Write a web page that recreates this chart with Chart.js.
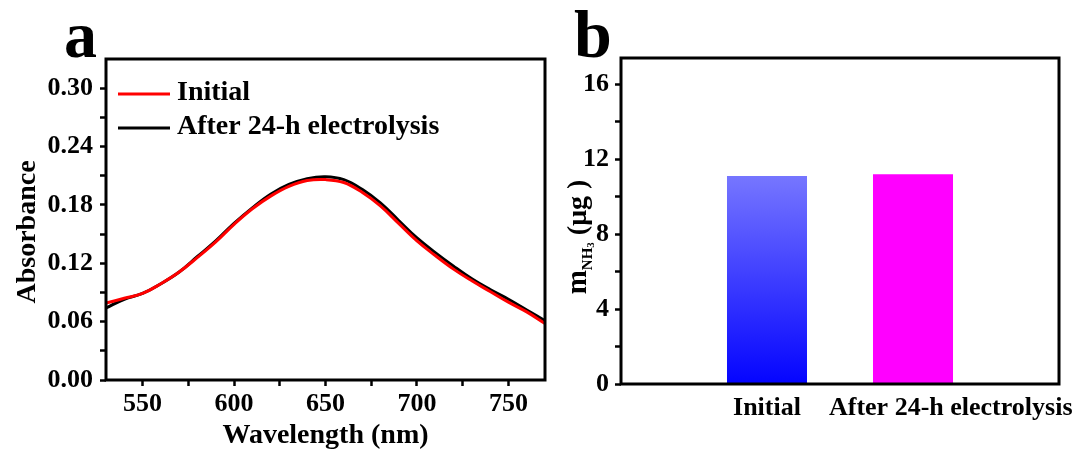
<!DOCTYPE html>
<html>
<head>
<meta charset="utf-8">
<title>Absorbance and NH3 yield</title>
<script src="https://cdn.jsdelivr.net/npm/chart.js@4/dist/chart.umd.min.js"></script>
<style>
  html, body { margin: 0; padding: 0; background: #fff; }
  #wrap { position: relative; width: 1072px; height: 450px; overflow: hidden; }
  .panel { position: absolute; top: 0; height: 450px; }
  #panel-a { left: 0; width: 560px; }
  #panel-b { left: 536px; width: 536px; }
</style>
</head>
<body>
<div id="wrap">
  <div class="panel" id="panel-a"><canvas id="chart-abs"></canvas></div>
  <div class="panel" id="panel-b"><canvas id="chart-nh3"></canvas></div>
</div>
<script>
// ---- panel a: UV-vis spectra ----
const wavelengths = [530, 540, 550, 560, 570, 580, 590, 600, 610, 620, 630, 640, 650,
                     660, 670, 680, 690, 700, 710, 720, 730, 740, 750, 760, 770];
const absInitial  = [0.079, 0.084, 0.089, 0.099, 0.111, 0.126, 0.142, 0.160, 0.176, 0.189, 0.199, 0.205, 0.206,
                     0.203, 0.193, 0.179, 0.161, 0.143, 0.128, 0.114, 0.102, 0.091, 0.080, 0.070, 0.058];
const absAfter    = [0.074, 0.083, 0.089, 0.099, 0.111, 0.127, 0.143, 0.161, 0.177, 0.191, 0.201, 0.207, 0.209,
                     0.206, 0.196, 0.182, 0.164, 0.146, 0.131, 0.117, 0.104, 0.093, 0.083, 0.072, 0.061];
const xTicksA  = [550, 575, 600, 625, 650, 675, 700, 725, 750];
const xLabelsA = [550, 600, 650, 700, 750];
const yTicksA  = [0.00, 0.03, 0.06, 0.09, 0.12, 0.15, 0.18, 0.21, 0.24, 0.27, 0.30];
const yLabelsA = [0.00, 0.06, 0.12, 0.18, 0.24, 0.30];

// ---- panel b: NH3 mass ----
const nh3Categories = ['', 'Initial', 'After 24-h electrolysis', ''];
const nh3Mass       = [null, 11.1, 11.2, null];
const yTicksB  = [0, 2, 4, 6, 8, 10, 12, 14, 16];
const yLabelsB = [0, 4, 8, 12, 16];

// bar fills (top -> bottom)
const barTop    = [null, '#7676ff', '#ff00ff', null];
const barBottom = [null, '#0404ff', '#ff00ff', null];

const SERIF = '"Liberation Serif", "Times New Roman", serif';
Chart.defaults.font.family = SERIF;
Chart.defaults.font.weight = 'bold';
Chart.defaults.color = '#000';

// black box round the plot area + panel letter
const framePlugin = {
  id: 'frame',
  afterDraw(chart, args, opts) {
    const { ctx, chartArea: a } = chart;
    ctx.save();
    ctx.strokeStyle = '#000';
    ctx.lineWidth = 3;
    ctx.strokeRect(a.left, a.top, a.right - a.left, a.bottom - a.top);
    ctx.fillStyle = '#000';
    ctx.font = `bold ${opts.size}px ${SERIF}`;
    ctx.textBaseline = 'alphabetic';
    ctx.fillText(opts.letter, opts.x, 57);
    ctx.restore();
  }
};

// legend for the spectra (inside the plot area) and the y title
const spectraLegend = {
  id: 'spectraLegend',
  afterDraw(chart) {
    const { ctx, chartArea: a } = chart;
    ctx.save();
    ctx.font = `bold 28px ${SERIF}`;
    ctx.textBaseline = 'middle';
    ctx.fillStyle = '#000';
    chart.data.datasets.forEach((ds, i) => {
      const y = a.top + 35 + i * 34;
      ctx.strokeStyle = ds.borderColor;
      ctx.lineWidth = ds.borderWidth;
      ctx.beginPath();
      ctx.moveTo(a.left + 12, y);
      ctx.lineTo(a.left + 64, y);
      ctx.stroke();
      ctx.fillText(ds.label, a.left + 71, y - 1);
    });

    ctx.translate(28, 232);
    ctx.rotate(-Math.PI / 2);
    ctx.textAlign = 'center';
    ctx.fillText('Absorbance', 0, 0);
    ctx.restore();
  }
};

// category labels + rotated y title with subscript
const nh3Labels = {
  id: 'nh3Labels',
  afterDraw(chart) {
    const { ctx, chartArea: a, scales } = chart;
    ctx.save();
    ctx.fillStyle = '#000';
    ctx.font = `bold 26px ${SERIF}`;
    ctx.textBaseline = 'alphabetic';
    ctx.textAlign = 'left';
    let prevEnd = -Infinity;
    nh3Categories.forEach((lab, i) => {
      if (!lab) return;
      const w = ctx.measureText(lab).width;
      const cx = scales.x.getPixelForValue(i);
      const start = Math.max(cx - w / 2, prevEnd + 28);
      ctx.fillText(lab, start, a.bottom + 31);
      prevEnd = start + w;
    });

    // m_NH3 (μg )
    const parts = [
      { t: 'm', size: 29, dy: 0 },
      { t: 'NH', size: 15, dy: 6 },
      { t: '3', size: 11, dy: 8 },
      { t: ' (μg )', size: 28, dy: 0 }
    ];
    let total = 0;
    parts.forEach(p => { ctx.font = `bold ${p.size}px ${SERIF}`; p.w = ctx.measureText(p.t).width; total += p.w; });
    ctx.translate(41, 237);
    ctx.rotate(-Math.PI / 2);
    let x = -total / 2;
    parts.forEach(p => {
      ctx.font = `bold ${p.size}px ${SERIF}`;
      ctx.fillText(p.t, x, 9 + p.dy);
      x += p.w;
    });
    ctx.restore();
  }
};

function fixedTicks(values) {
  return scale => { scale.ticks = values.map(v => ({ value: v })); };
}

const tickGrid = {
  display: true,
  drawOnChartArea: false,
  drawTicks: true,
  tickLength: 6,
  tickWidth: 2.5,
  tickColor: '#000'
};

// Panel a
new Chart(document.getElementById('chart-abs'), {
  type: 'line',
  data: {
    datasets: [
      {
        label: 'Initial',
        data: wavelengths.map((w, i) => ({ x: w, y: absInitial[i] })),
        borderColor: '#ff0000',
        borderWidth: 3,
        pointRadius: 0,
        tension: 0.4
      },
      {
        label: 'After 24-h electrolysis',
        data: wavelengths.map((w, i) => ({ x: w, y: absAfter[i] })),
        borderColor: '#000000',
        borderWidth: 3,
        pointRadius: 0,
        tension: 0.4
      }
    ]
  },
  options: {
    responsive: true,
    maintainAspectRatio: false,
    animation: false,
    layout: { padding: { top: 59, right: 15, bottom: 0, left: 0 } },
    plugins: {
      legend: { display: false },
      tooltip: { enabled: false },
      frame: { letter: 'a', x: 64, size: 66 }
    },
    scales: {
      x: {
        type: 'linear',
        min: 530,
        max: 770,
        afterBuildTicks: fixedTicks(xTicksA),
        afterFit: s => { s.height = 70; },
        grid: tickGrid,
        border: { display: false },
        ticks: {
          autoSkip: false,
          maxRotation: 0,
          padding: 3,
          font: { size: 26 },
          callback: v => xLabelsA.includes(v) ? String(v) : ''
        },
        title: {
          display: true,
          text: 'Wavelength (nm)',
          font: { size: 28 },
          padding: { top: 0, bottom: -3 }
        }
      },
      y: {
        min: 0,
        max: 0.33,
        afterBuildTicks: fixedTicks(yTicksA),
        afterFit: s => { s.width = 106; },
        grid: tickGrid,
        border: { display: false },
        ticks: {
          autoSkip: false,
          padding: 7,
          font: { size: 26 },
          callback: v => yLabelsA.includes(v) ? v.toFixed(2) : ''
        }
      }
    }
  },
  plugins: [framePlugin, spectraLegend]
});

// Panel b
new Chart(document.getElementById('chart-nh3'), {
  type: 'bar',
  data: {
    labels: nh3Categories,
    datasets: [{
      label: 'NH3',
      data: nh3Mass,
      barPercentage: 0.548,
      categoryPercentage: 1,
      borderWidth: 0,
      backgroundColor: ctx => {
        const i = ctx.dataIndex;
        const chart = ctx.chart;
        if (!chart.chartArea || nh3Mass[i] == null) return barTop[i] || '#000';
        const ys = chart.scales.y;
        const g = chart.ctx.createLinearGradient(0, ys.getPixelForValue(nh3Mass[i]), 0, ys.getPixelForValue(0));
        g.addColorStop(0, barTop[i]);
        g.addColorStop(1, barBottom[i]);
        return g;
      }
    }]
  },
  options: {
    responsive: true,
    maintainAspectRatio: false,
    animation: false,
    layout: { padding: { top: 58, right: 13, bottom: 0, left: 0 } },
    plugins: {
      legend: { display: false },
      tooltip: { enabled: false },
      frame: { letter: 'b', x: 38, size: 68 }
    },
    scales: {
      x: {
        offset: false,
        afterFit: s => { s.height = 66; },
        grid: { display: false },
        border: { display: false },
        ticks: { display: false }
      },
      y: {
        min: 0,
        max: 17.4,
        afterBuildTicks: fixedTicks(yTicksB),
        afterFit: s => { s.width = 85; },
        grid: tickGrid,
        border: { display: false },
        ticks: {
          autoSkip: false,
          padding: 6,
          font: { size: 26 },
          callback: v => yLabelsB.includes(v) ? String(v) : ''
        }
      }
    }
  },
  plugins: [framePlugin, nh3Labels]
});
</script>
</body>
</html>
